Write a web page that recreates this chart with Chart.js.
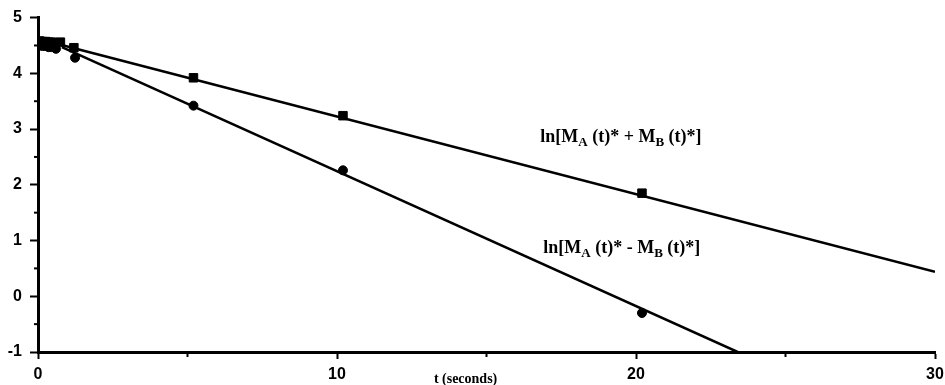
<!DOCTYPE html>
<html>
<head>
<meta charset="utf-8">
<script src="https://cdn.jsdelivr.net/npm/chart.js@4"></script>
<style>
  html, body { margin: 0; padding: 0; background: #fff; }
  #box { width: 945px; height: 385px; }
</style>
</head>
<body>
<div id="box"><canvas id="myChart"></canvas></div>
<script>
// measured points, ln[MA(t)* + MB(t)*]
var sumT   = [0.05, 0.15, 0.25, 0.35, 0.45, 0.55, 0.75, 1.2, 5.2, 10.2, 20.2];
var sumVal = [4.58, 4.57, 4.57, 4.56, 4.56, 4.55, 4.56, 4.46, 3.92, 3.24, 1.85];
// measured points, ln[MA(t)* - MB(t)*]
var difT   = [0.05, 0.15, 0.25, 0.35, 0.45, 0.6, 1.24, 5.2, 10.2, 20.2];
var difVal = [4.50, 4.49, 4.49, 4.47, 4.47, 4.44, 4.28, 3.42, 2.26, -0.30];
// fitted straight lines (end points)
var sumFitT = [0.5, 30];
var sumFitV = [4.55, 0.44];
var difFitT = [0.8, 23.4];
var difFitV = [4.47, -1];

var xTicks = [0, 10, 20, 30];
var yTicks = [-1, 0, 1, 2, 3, 4, 5];

function pts(xs, ys) {
  return xs.map(function(x, i){ return {x: x, y: ys[i]}; });
}

// minor ticks + curve labels + axis title
var extras = {
  id: "extras",
  afterDraw: function(chart) {
    var c = chart.ctx, xs = chart.scales.x, ys = chart.scales.y;
    c.save();
    c.strokeStyle = "#000";
    c.lineWidth = 2;
    // small ticks at half steps
    for (var v = -0.5; v < 5; v += 1) {
      var py = ys.getPixelForValue(v);
      c.beginPath(); c.moveTo(xs.left - 4, py); c.lineTo(xs.left, py); c.stroke();
    }
    for (var t = 5; t < 30; t += 10) {
      var px = xs.getPixelForValue(t);
      c.beginPath(); c.moveTo(px, ys.bottom); c.lineTo(px, ys.bottom + 5); c.stroke();
    }
    // labels with subscripts
    function label(x, y, sign) {
      var big = "bold 18px 'Liberation Serif'", small = "bold 13px 'Liberation Serif'";
      var parts = [["ln[M", big, 0], ["A", small, 5], [" (t)* " + sign + " M", big, 0], ["B", small, 5], [" (t)*]", big, 0]];
      c.fillStyle = "#000";
      c.textBaseline = "middle";
      c.textAlign = "left";
      var cx = x;
      parts.forEach(function(p){
        c.font = p[1];
        c.fillText(p[0], cx, y + p[2]);
        cx += c.measureText(p[0]).width;
      });
    }
    label(xs.getPixelForValue(16.8), ys.getPixelForValue(2.85), "+");
    label(xs.getPixelForValue(16.9), ys.getPixelForValue(0.86), "-");
    c.font = "bold 14px 'Liberation Serif'";
    c.textAlign = "center";
    c.textBaseline = "middle";
    c.fillText("t (seconds)", xs.getPixelForValue(14.3), 379);
    c.restore();
  }
};

var ctx = document.getElementById("myChart");
var myChart = new Chart(ctx, {
  type: "scatter",
  data: {
    datasets: [
      {
        label: "sum",
        data: pts(sumT, sumVal),
        pointStyle: "rect",
        pointRadius: 6,
        backgroundColor: "#000",
        borderColor: "#000",
        showLine: false
      },
      {
        label: "diff",
        data: pts(difT, difVal),
        pointStyle: "circle",
        pointRadius: 4.5,
        backgroundColor: "#000",
        borderColor: "#000",
        showLine: false
      },
      {
        label: "sum fit",
        data: pts(sumFitT, sumFitV),
        showLine: true,
        pointRadius: 0,
        borderColor: "#000",
        borderWidth: 2.5
      },
      {
        label: "diff fit",
        data: pts(difFitT, difFitV),
        showLine: true,
        pointRadius: 0,
        borderColor: "#000",
        borderWidth: 2.5
      }
    ]
  },
  options: {
    responsive: true,
    maintainAspectRatio: false,
    animation: false,
    layout: { padding: { top: 17, right: 0, left: 0, bottom: 0 } },
    plugins: {
      legend: { display: false },
      tooltip: { enabled: false }
    },
    scales: {
      x: {
        type: "linear",
        min: 0, max: 30,
        afterFit: function(s){ s.height = 33; s.paddingRight = 10; },
        afterBuildTicks: function(s){ s.ticks = xTicks.map(function(v){ return {value: v}; }); },
        border: { display: true, color: "#000", width: 3 },
        grid: { drawOnChartArea: false, drawTicks: true, tickLength: 7, color: "#000", tickWidth: 2 },
        ticks: {
          color: "#000",
          padding: 6,
          maxRotation: 0,
          font: { family: "'Liberation Sans'", size: 16, weight: "bold" }
        }
      },
      y: {
        type: "linear",
        min: -1, max: 5,
        afterFit: function(s){ s.width = 38; },
        afterBuildTicks: function(s){ s.ticks = yTicks.map(function(v){ return {value: v}; }); },
        border: { display: true, color: "#000", width: 3 },
        grid: { drawOnChartArea: false, drawTicks: true, tickLength: 8, color: "#000", tickWidth: 2 },
        ticks: {
          color: "#000",
          padding: 8,
          font: { family: "'Liberation Sans'", size: 16, weight: "bold" }
        }
      }
    }
  },
  plugins: [extras]
});
</script>
</body>
</html>
